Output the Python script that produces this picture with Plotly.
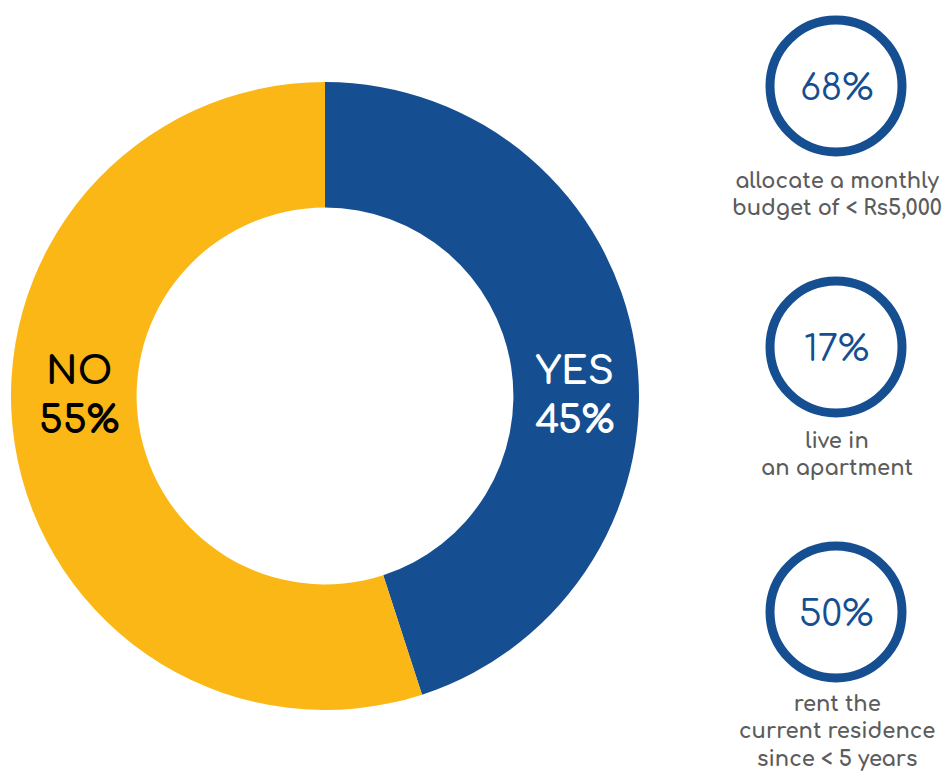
import plotly.graph_objects as go

# Main split
answers = ["YES", "NO"]
shares = [45, 55]
slice_colors = ["#154f91", "#fbb715"]
label_colors = ["#ffffff", "#000000"]

# Side statistics
stat_values = [68, 17, 50]
stat_captions = [
    "allocate a monthly<br>budget of < Rs5,000",
    "live in<br>an apartment",
    "rent the<br>current residence<br>since < 5 years",
]

W, H = 948, 771
FONT = "Comfortaa, Inter, sans-serif"
BLUE = "#154f91"
GREY = "#5c5c5c"

fig = go.Figure()

fig.add_trace(go.Pie(
    labels=answers,
    values=shares,
    marker=dict(colors=slice_colors, line=dict(width=0)),
    hole=0.6,
    sort=False,
    direction="clockwise",
    rotation=0,
    textinfo="none",
    hoverinfo="label+percent",
    showlegend=False,
    domain=dict(x=[11 / W, 639 / W], y=[1 - 710 / H, 1 - 82 / H]),
))

# Labels inside the ring, level with the centre
cx, cy = 325 / W, 1 - 396 / H
offsets = [249 / W, -246 / W]
for i, (name, val) in enumerate(zip(answers, shares)):
    fig.add_annotation(
        x=cx + offsets[i], y=cy - 0.001,
        xref="paper", yref="paper",
        text=f"<b>{name}<br>{val}%</b>",
        showarrow=False,
        font=dict(family=FONT, size=38, color=label_colors[i]),
        xanchor="center", yanchor="middle",
    )

# Ring badges on the right
centres_y = [86, 347, 612]
caption_top = [167, 427, 690]
bx = 836
r = 66
for val, yc, cap, ty in zip(stat_values, centres_y, stat_captions, caption_top):
    fig.add_shape(
        type="circle", xref="paper", yref="paper",
        x0=(bx - r) / W, x1=(bx + r) / W,
        y0=1 - (yc + r) / H, y1=1 - (yc - r) / H,
        line=dict(color=BLUE, width=9),
        fillcolor="rgba(0,0,0,0)",
    )
    fig.add_annotation(
        x=bx / W, y=1 - (yc + 2) / H, xref="paper", yref="paper",
        text=f"{val}%", showarrow=False,
        font=dict(family=FONT, size=36, color=BLUE),
        xanchor="center", yanchor="middle",
    )
    fig.add_annotation(
        x=(bx + 1) / W, y=1 - ty / H, xref="paper", yref="paper",
        text=f"<b>{cap}</b>", showarrow=False,
        font=dict(family=FONT, size=21, color=GREY),
        xanchor="center", yanchor="top", align="center",
    )

fig.update_layout(
    width=W, height=H,
    margin=dict(l=0, r=0, t=0, b=0),
    paper_bgcolor="white",
    plot_bgcolor="white",
)

fig.write_html("out.html")
